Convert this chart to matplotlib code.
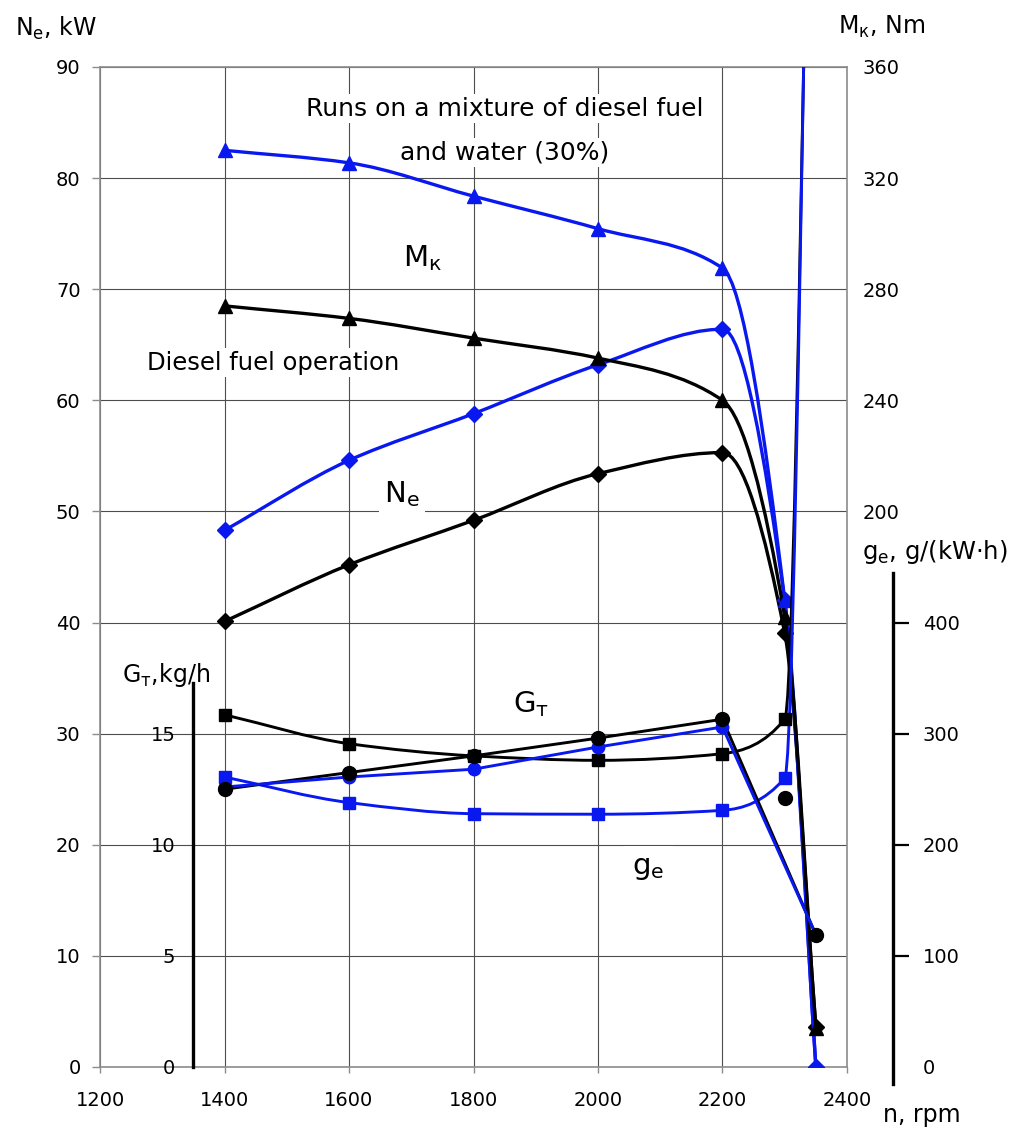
import numpy as np
import matplotlib
matplotlib.use("Agg")
import matplotlib.pyplot as plt
from matplotlib.path import Path
from matplotlib.patches import PathPatch

# ---------------- data ----------------
rpm = [1400, 1600, 1800, 2000, 2200, 2300, 2350]

# torque M_k, Nm
mk_diesel = [274, 269.5, 262.4, 255.2, 240, 162, 14]
mk_mix = [330, 325.5, 313.5, 301.8, 287.6, 168, 0]

# effective power N_e, kW
ne_diesel = [40.1, 45.2, 49.2, 53.4, 55.3, 39.05, 3.6]
ne_mix = [48.3, 54.6, 58.8, 63.2, 66.4, 42, 0]

# specific fuel consumption g_e, g/(kW*h)
ge_diesel = [317, 291, 280, 276, 282, 313, 1450]
ge_mix = [261, 238, 228, 227.5, 231, 260, 1500]

# hourly fuel consumption G_T, kg/h
gt_diesel = [12.5, 13.25, 14.0, 14.8, 15.65, 12.1, 5.95]
gt_mix = [12.6, 13.05, 13.4, 14.4, 15.3, np.nan, 5.95]

x_ticks = [1200, 1400, 1600, 1800, 2000, 2200, 2400]
ne_ticks = [0, 10, 20, 30, 40, 50, 60, 70, 80, 90]
mk_ticks = [200, 240, 280, 320, 360]
ge_ticks = [0, 100, 200, 300, 400]
gt_ticks = [0, 5, 10, 15]

BLUE = "#0A18F0"
BLACK = "#000000"
FONT = "DejaVu Sans"
plt.rcParams["font.family"] = [FONT]
plt.rcParams["mathtext.default"] = "regular"


def smooth_path(x, y):
    """Monotone (Fritsch-Carlson) cubic Bezier path through the points."""
    x = np.asarray(x, float)
    y = np.asarray(y, float)
    h = np.diff(x)
    d = np.diff(y) / h
    n = len(x)
    m = np.zeros(n)
    m[0] = d[0]
    m[-1] = d[-1]
    for k in range(1, n - 1):
        if d[k - 1] * d[k] <= 0:
            m[k] = 0.0
        else:
            w1 = 2 * h[k] + h[k - 1]
            w2 = h[k] + 2 * h[k - 1]
            m[k] = (w1 + w2) / (w1 / d[k - 1] + w2 / d[k])
    verts = [(x[0], y[0])]
    codes = [Path.MOVETO]
    for k in range(n - 1):
        verts += [(x[k] + h[k] / 3, y[k] + m[k] * h[k] / 3),
                  (x[k + 1] - h[k] / 3, y[k + 1] - m[k + 1] * h[k] / 3),
                  (x[k + 1], y[k + 1])]
        codes += [Path.CURVE4] * 3
    return Path(verts, codes)


def smooth_line(axis, x, y, color, lw):
    patch = PathPatch(smooth_path(x, y), facecolor="none", edgecolor=color,
                      lw=lw, capstyle="round", joinstyle="round", zorder=3)
    axis.add_patch(patch)


W, H = 1014, 1128
fig = plt.figure(figsize=(W / 100, H / 100), dpi=100)
L, R, B, T = 100, 847, 1067, 67
ax = fig.add_axes([L / W, 1 - B / H, (R - L) / W, (B - T) / H])

ax.set_xlim(1200, 2400)
ax.set_ylim(0, 90)
ax.set_xticks(x_ticks)
ax.set_yticks(ne_ticks)
ax.grid(True, color="#4d4d4d", lw=0.8, zorder=0)
ax.set_axisbelow(True)
for s in ax.spines.values():
    s.set_color("#8c8c8c")
    s.set_linewidth(1.2)
ax.tick_params(axis="y", length=6, width=1, color="#8c8c8c", pad=8, labelsize=14)
ax.tick_params(axis="x", length=4.5, width=1, color="#8c8c8c", pad=13, labelsize=14)

# twin axes for the other quantities
ax_mk = ax.twinx()
ax_ge = ax.twinx()
ax_gt = ax.twinx()
for a in (ax_mk, ax_ge, ax_gt):
    for s in a.spines.values():
        s.set_visible(False)

# M_k axis (right)
ax_mk.set_ylim(0, 360)
ax_mk.set_yticks(mk_ticks)
ax_mk.tick_params(axis="y", length=0, pad=11, labelsize=14)

# g_e axis (outer right)
ax_ge.set_ylim(0, 900)
ax_ge.spines["right"].set_visible(True)
ax_ge.spines["right"].set_position(("axes", (893 - L) / (R - L)))
ax_ge.spines["right"].set_bounds(-15, 445)
ax_ge.spines["right"].set_linewidth(2.4)
ax_ge.spines["right"].set_color(BLACK)
ax_ge.set_yticks(ge_ticks)
ax_ge.tick_params(axis="y", length=11.5, width=1.6, color=BLACK, pad=10, labelsize=14)
ax_ge.yaxis.get_major_ticks()[0].tick2line.set_visible(False)

# G_T axis (inside, at n = 1350)
ax_gt.set_ylim(0, 45)
ax_gt.yaxis.tick_left()
ax_gt.spines["left"].set_visible(True)
ax_gt.spines["left"].set_position(("data", 1350))
ax_gt.spines["left"].set_bounds(0, 17.3)
ax_gt.spines["left"].set_linewidth(2.4)
ax_gt.spines["left"].set_color(BLACK)
ax_gt.set_yticks(gt_ticks)
ax_gt.tick_params(axis="y", length=0, pad=13, labelsize=14)

# ---------------- curves ----------------
ms_kw = dict(linestyle="none", zorder=4)

# N_e
smooth_line(ax, rpm, ne_mix, BLUE, 2.4)
smooth_line(ax, rpm, ne_diesel, BLACK, 2.4)
ax.plot(rpm, ne_mix, marker="D", ms=8, color=BLUE, **ms_kw)
ax.plot(rpm, ne_diesel, marker="D", ms=8, color=BLACK, **ms_kw)

# M_k
smooth_line(ax_mk, rpm, mk_mix, BLUE, 2.4)
smooth_line(ax_mk, rpm, mk_diesel, BLACK, 2.4)
ax_mk.plot(rpm, mk_mix, marker="^", ms=10, color=BLUE, **ms_kw)
ax_mk.plot(rpm, mk_diesel, marker="^", ms=10, color=BLACK, **ms_kw)

# g_e
smooth_line(ax_ge, rpm, ge_diesel, BLACK, 2.1)
smooth_line(ax_ge, rpm, ge_mix, BLUE, 2.1)
ax_ge.plot(rpm, ge_diesel, marker="s", ms=8, color=BLACK, **ms_kw)
ax_ge.plot(rpm, ge_mix, marker="s", ms=8, color=BLUE, **ms_kw)

# G_T (straight segments, line skips the 2300 rpm reading)
line_idx = [0, 1, 2, 3, 4, 6]
ax_gt.plot([rpm[i] for i in line_idx], [gt_diesel[i] for i in line_idx],
           color=BLACK, lw=2.1, zorder=3)
ax_gt.plot([rpm[i] for i in line_idx], [gt_mix[i] for i in line_idx],
           color=BLUE, lw=2.1, zorder=3)
ax_gt.plot(rpm, gt_mix, marker="o", ms=9, color=BLUE, **ms_kw)
ax_gt.plot(rpm, gt_diesel, marker="o", ms=10, color=BLACK, **ms_kw)

# ---------------- annotations ----------------
box = dict(facecolor="white", edgecolor="none", pad=2)
ax.text(1850, 86.25, "Runs on a mixture of diesel fuel", ha="center", va="center",
        fontsize=18, bbox=box, zorder=2)
ax.text(1850, 82.3, "and water (30%)", ha="center", va="center",
        fontsize=18, bbox=box, zorder=2)
ax.text(1478, 63.4, "Diesel fuel operation", ha="center", va="center",
        fontsize=17.5, bbox=box, zorder=2)
ax.text(1718, 72.8, r"$M_{к}$", ha="center", va="center", fontsize=21,
        bbox=box, zorder=2)
ax.text(1685, 51.6, r"$N_e$", ha="center", va="center", fontsize=21,
        bbox=dict(facecolor="white", edgecolor="none", pad=4), zorder=2)
ax.text(1892, 32.7, r"$G_{т}$", ha="center", va="center", fontsize=21,
        bbox=box, zorder=2)
ax.text(2081, 17.9, r"$g_e$", ha="center", va="center", fontsize=21,
        bbox=dict(facecolor="white", edgecolor="none", pad=6), zorder=2)


def ftext(px, py, s, size=17):
    fig.text(px / W, 1 - py / H, s, ha="left", va="center", fontsize=size)


ftext(15, 28, r"$N_e$, kW")
ftext(838, 27, r"$M_{к}$, Nm")
ftext(862, 552, r"$g_e$, g/(kW·h)", 17.5)
ftext(122, 675, r"$G_{т}$,kg/h")
ftext(883, 1115, "n, rpm")

fig.savefig("out.png", dpi=100)
